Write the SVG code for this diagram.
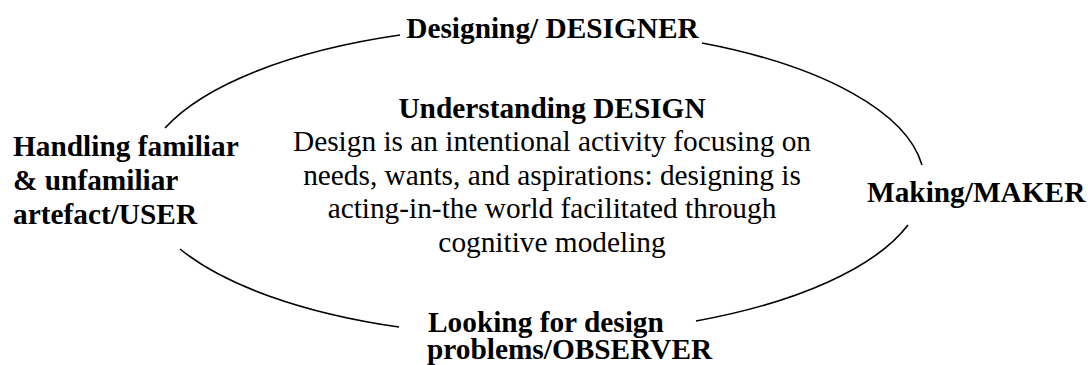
<svg xmlns="http://www.w3.org/2000/svg" width="1088" height="365" viewBox="0 0 1088 365">
  <style>
    .arc { fill: none; stroke: #000; stroke-width: 1.6; }
    .lbl { font-family: "Liberation Serif", "Times New Roman", serif; font-size: 29.33px; font-weight: bold; fill: #000; }
    .body { font-family: "Liberation Serif", "Times New Roman", serif; font-size: 29.33px; fill: #000; }
    .mid { text-anchor: middle; }
  </style>
  <rect width="1088" height="365" fill="#fff"/>

  <!-- cycle ring: four elliptical segments broken around the role labels -->
  <g id="connectors">
    <path class="arc" d="M165,128 A393,155 0 0 1 400,35"/>
    <path class="arc" d="M702,43 A393,155 0 0 1 922,165"/>
    <path class="arc" d="M908,225 A393,155 0 0 1 696,321"/>
    <path class="arc" d="M399,327 A393,155 0 0 1 180,249"/>
  </g>

  <g id="designer">
    <text class="lbl mid" x="552.5" y="38">Designing/ DESIGNER</text>
  </g>

  <g id="maker">
    <text class="lbl" x="867" y="201.5">Making/MAKER</text>
  </g>

  <g id="observer">
    <text class="lbl" x="428" y="332">Looking for design</text>
    <text class="lbl" x="427" y="359">problems/OBSERVER</text>
  </g>

  <g id="user">
    <text class="lbl" x="13" y="156">Handling familiar</text>
    <text class="lbl" x="13" y="190">&amp; unfamiliar</text>
    <text class="lbl" x="13" y="224">artefact/USER</text>
  </g>

  <g id="understanding">
    <text class="lbl mid" x="552" y="117.5">Understanding DESIGN</text>
    <text class="body mid" x="552" y="151">Design is an intentional activity focusing on</text>
    <text class="body mid" x="552" y="184.5">needs, wants, and aspirations: designing is</text>
    <text class="body mid" x="552" y="218">acting-in-the world facilitated through</text>
    <text class="body mid" x="552" y="251.5">cognitive modeling</text>
  </g>
</svg>
